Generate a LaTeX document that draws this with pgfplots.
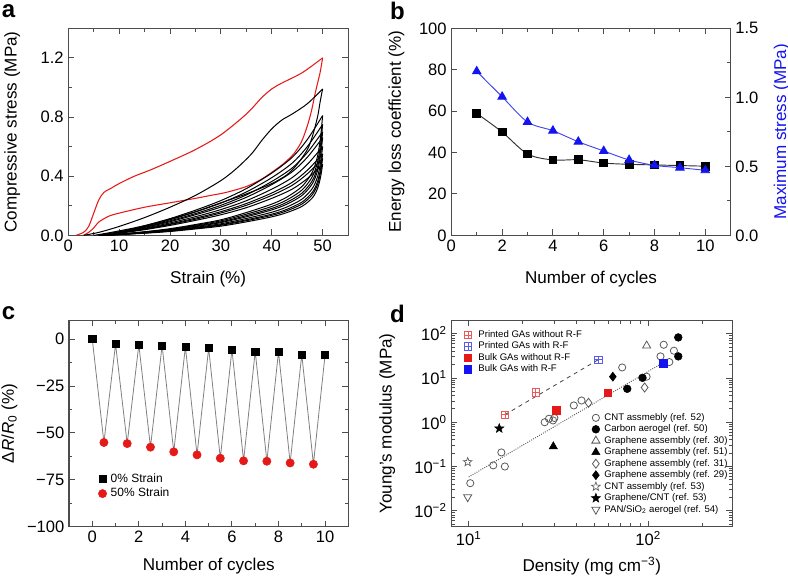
\documentclass[border=0pt]{standalone}
\usepackage{fontspec}
\setmainfont{Liberation Sans}
\usepackage{pgfplots}
\pgfplotsset{compat=1.18}
\usetikzlibrary{plotmarks}

\definecolor{frame}{gray}{0.3}
\definecolor{myred}{RGB}{230,25,25}
\definecolor{myblue}{RGB}{20,20,240}
\definecolor{lred}{RGB}{235,90,90}
\definecolor{lblue}{RGB}{90,90,235}
\definecolor{ogray}{gray}{0.35}

\pgfdeclareplotmark{boxplus}{%
  \pgfpathrectangle{\pgfqpoint{-\pgfplotmarksize}{-\pgfplotmarksize}}{\pgfqpoint{2\pgfplotmarksize}{2\pgfplotmarksize}}%
  \pgfpathmoveto{\pgfqpoint{-\pgfplotmarksize}{0pt}}\pgfpathlineto{\pgfqpoint{\pgfplotmarksize}{0pt}}%
  \pgfpathmoveto{\pgfqpoint{0pt}{-\pgfplotmarksize}}\pgfpathlineto{\pgfqpoint{0pt}{\pgfplotmarksize}}%
  \pgfusepathqstroke}
\pgfdeclareplotmark{pstar}{%
  \pgfpathmoveto{\pgfqpointpolar{90}{\pgfplotmarksize}}%
  \pgfpathlineto{\pgfqpointpolar{126}{0.42\pgfplotmarksize}}%
  \pgfpathlineto{\pgfqpointpolar{162}{\pgfplotmarksize}}%
  \pgfpathlineto{\pgfqpointpolar{198}{0.42\pgfplotmarksize}}%
  \pgfpathlineto{\pgfqpointpolar{234}{\pgfplotmarksize}}%
  \pgfpathlineto{\pgfqpointpolar{270}{0.42\pgfplotmarksize}}%
  \pgfpathlineto{\pgfqpointpolar{306}{\pgfplotmarksize}}%
  \pgfpathlineto{\pgfqpointpolar{342}{0.42\pgfplotmarksize}}%
  \pgfpathlineto{\pgfqpointpolar{18}{\pgfplotmarksize}}%
  \pgfpathlineto{\pgfqpointpolar{54}{0.42\pgfplotmarksize}}%
  \pgfpathclose
  \pgfusepathqfillstroke}

\pgfplotsset{
  panel/.style={
    scale only axis, tick align=inside,
    axis line style={frame, line width=0.8pt},
    every tick/.style={frame, line width=0.7pt},
    major tick length=4.5pt, minor tick length=2.5pt,
    tick label style={font=\fontsize{12.4}{13}\selectfont},
    label style={font=\fontsize{12.8}{14}\selectfont},
    /pgf/number format/assume math mode=true,
  },
  onedp/.style={/pgf/number format/fixed, /pgf/number format/fixed zerofill, /pgf/number format/precision=1},
  cyc/.style={black, line width=0.75pt, smooth, tension=0.5},
}

\begin{document}
\begin{tikzpicture}
\useasboundingbox (0pt,0pt) rectangle (591pt,-432pt);

% ---------------- panel a
\begin{axis}[panel, at={(51.23pt,-176.48pt)}, anchor=south west,
  width=209.8pt, height=155.25pt,
  xmin=0, xmax=55, ymin=0, ymax=1.4,
  xtick={0,10,...,50}, minor xtick={5,15,25,35,45},
  ytick={0,0.4,0.8,1.2}, minor ytick={0.2,0.6,1.0},
  yticklabel style={onedp},
  xlabel={Strain (\%)}, ylabel={Compressive stress (MPa)},
  xlabel style={at={(axis description cs:0.5,-0.15)}, anchor=north},
  ylabel style={at={(axis description cs:-0.155,0.5)}, anchor=south},
]
% cycle 1 (red)
\addplot[myred, line width=0.8pt, smooth, tension=0.5] coordinates {(1.5,0)(3,0.02)(4,0.06)(5,0.15)(6,0.24)(7,0.29)(8.5,0.32)(10,0.35)(13,0.40)(16,0.44)(20,0.50)(25,0.58)(30,0.68)(35,0.82)(38,0.93)(40,0.99)(42,1.03)(46,1.10)(50,1.2)};
\addplot[myred, line width=0.8pt, smooth, tension=0.5] coordinates {(50,1.2)(49.5,1.1)(48.6,0.97)(47.8,0.84)(46.9,0.73)(45.8,0.63)(44.3,0.55)(42.5,0.49)(41,0.45)(38,0.38)(35,0.33)(31,0.29)(28,0.27)(25,0.25)(20,0.22)(15,0.19)(10,0.15)(8,0.13)(6,0.09)(5,0.05)(4,0.02)(3,0)};
% cycle 2
\addplot[cyc] coordinates {(3,0)(6,0.02)(10,0.06)(15,0.12)(20,0.19)(25,0.27)(30,0.37)(33,0.45)(36,0.55)(38,0.64)(40,0.72)(42,0.78)(44,0.82)(47,0.89)(50,0.99)};
\addplot[cyc] coordinates {(50,0.99)(49.5,0.9)(49,0.8)(48,0.67)(47,0.58)(45,0.48)(43,0.41)(40,0.35)(35,0.28)(30,0.22)(25,0.16)(20,0.11)(15,0.065)(10,0.03)(6,0.005)(5,0)};
% cycles 3-10 loading
\addplot[cyc] coordinates {(6,0)(10,0.024)(15,0.065)(20,0.113)(25,0.170)(30,0.235)(35,0.316)(40,0.421)(44,0.527)(47,0.648)(50,0.81)};
\addplot[cyc] coordinates {(6,0)(10,0.023)(15,0.06)(20,0.105)(25,0.158)(30,0.218)(35,0.293)(40,0.39)(44,0.488)(47,0.6)(50,0.75)};
\addplot[cyc] coordinates {(6,0)(10,0.021)(15,0.056)(20,0.098)(25,0.147)(30,0.203)(35,0.273)(40,0.364)(44,0.455)(47,0.56)(50,0.70)};
\addplot[cyc] coordinates {(6,0)(10,0.02)(15,0.053)(20,0.092)(25,0.139)(30,0.191)(35,0.257)(40,0.343)(44,0.429)(47,0.528)(50,0.66)};
\addplot[cyc] coordinates {(6,0)(10,0.018)(15,0.048)(20,0.084)(25,0.126)(30,0.174)(35,0.234)(40,0.312)(44,0.39)(47,0.48)(50,0.60)};
\addplot[cyc] coordinates {(6,0)(10,0.017)(15,0.044)(20,0.077)(25,0.116)(30,0.16)(35,0.215)(40,0.286)(44,0.358)(47,0.44)(50,0.55)};
\addplot[cyc] coordinates {(6,0)(10,0.016)(15,0.042)(20,0.073)(25,0.109)(30,0.151)(35,0.203)(40,0.27)(44,0.338)(47,0.416)(50,0.52)};
\addplot[cyc] coordinates {(6,0)(10,0.014)(15,0.038)(20,0.067)(25,0.101)(30,0.139)(35,0.187)(40,0.25)(44,0.312)(47,0.384)(50,0.48)};
% cycles 3-10 unloading
\addplot[cyc] coordinates {(50,0.81)(49.6,0.664)(49,0.535)(48,0.429)(46,0.332)(43,0.259)(40,0.211)(35,0.154)(30,0.105)(25,0.073)(20,0.045)(15,0.024)(10,0.008)(7,0)};
\addplot[cyc] coordinates {(50,0.75)(49.6,0.615)(49,0.495)(48,0.398)(46,0.308)(43,0.24)(40,0.195)(35,0.143)(30,0.098)(25,0.068)(20,0.041)(15,0.023)(10,0.008)(7,0)};
\addplot[cyc] coordinates {(50,0.70)(49.6,0.574)(49,0.462)(48,0.371)(46,0.287)(43,0.224)(40,0.182)(35,0.133)(30,0.091)(25,0.063)(20,0.039)(15,0.021)(10,0.007)(7,0)};
\addplot[cyc] coordinates {(50,0.66)(49.6,0.541)(49,0.436)(48,0.35)(46,0.271)(43,0.211)(40,0.172)(35,0.125)(30,0.086)(25,0.059)(20,0.036)(15,0.02)(10,0.007)(7,0)};
\addplot[cyc] coordinates {(50,0.60)(49.6,0.492)(49,0.396)(48,0.318)(46,0.246)(43,0.192)(40,0.156)(35,0.114)(30,0.078)(25,0.054)(20,0.033)(15,0.018)(10,0.006)(7,0)};
\addplot[cyc] coordinates {(50,0.55)(49.6,0.451)(49,0.363)(48,0.292)(46,0.226)(43,0.176)(40,0.143)(35,0.105)(30,0.072)(25,0.05)(20,0.03)(15,0.017)(10,0.006)(7,0)};
\addplot[cyc] coordinates {(50,0.52)(49.6,0.426)(49,0.343)(48,0.276)(46,0.213)(43,0.166)(40,0.135)(35,0.099)(30,0.068)(25,0.047)(20,0.029)(15,0.016)(10,0.005)(7,0)};
\addplot[cyc] coordinates {(50,0.48)(49.6,0.394)(49,0.317)(48,0.254)(46,0.197)(43,0.154)(40,0.125)(35,0.091)(30,0.062)(25,0.043)(20,0.026)(15,0.014)(10,0.005)(7,0)};
\end{axis}

% ---------------- panel b
\begin{axis}[panel, at={(338.48pt,-176.48pt)}, anchor=south west,
  width=209.55pt, height=155.25pt,
  xmin=0, xmax=11, ymin=0, ymax=100,
  axis y line*=left,
  xtick={0,2,...,10}, minor xtick={1,3,...,9},
  ytick={0,20,...,100},
  xlabel={Number of cycles}, ylabel={Energy loss coefficient (\%)},
  xlabel style={at={(axis description cs:0.5,-0.15)}, anchor=north},
  ylabel style={at={(axis description cs:-0.151,0.5)}, anchor=south},
]
\addplot[black!80, line width=0.7pt, smooth, tension=0.5, mark=square*, mark size=2.9pt, mark options={black, solid}] coordinates {
(1,58.9)(2,49.9)(3,39.3)(4,36.4)(5,36.5)(6,34.9)(7,34.3)(8,34.0)(9,33.7)(10,33.4)};
\end{axis}
\begin{axis}[panel, at={(338.48pt,-176.48pt)}, anchor=south west,
  width=209.55pt, height=155.25pt,
  xmin=0, xmax=11, ymin=0, ymax=1.5,
  axis y line*=right, axis x line=none,
  ytick={0,0.5,1,1.5}, minor ytick={0.25,0.75,1.25},
  yticklabel style={onedp},
  ylabel={Maximum stress (MPa)},
  ylabel style={at={(axis description cs:1.137,0.5)}, anchor=north, text=myblue},
]
\addplot[myblue!80, line width=0.7pt, smooth, tension=0.5, mark=triangle*, mark size=3.6pt, mark options={myblue, solid}] coordinates {
(1,1.188)(2,1.004)(3,0.821)(4,0.758)(5,0.678)(6,0.611)(7,0.546)(8,0.507)(9,0.49)(10,0.471)};
\end{axis}

% ---------------- panel c
\begin{axis}[panel, at={(51.75pt,-395.03pt)}, anchor=south west,
  width=209.5pt, height=154.8pt,
  xmin=-1, xmax=11, ymin=-100, ymax=10,
  xtick={0,2,...,10}, minor xtick={1,3,...,9},
  ytick={-100,-75,-50,-25,0}, yticklabels={−100,−75,−50,−25,0},
  minor ytick={-87.5,-62.5,-37.5,-12.5},
  xlabel={Number of cycles}, ylabel={Δ\textit{R}/\textit{R}\textsubscript{0} (\%)},
  xlabel style={at={(axis description cs:0.5,-0.127)}, anchor=north},
  ylabel style={at={(axis description cs:-0.168,0.5)}, anchor=south},
  legend style={at={(0.09,0.275)}, anchor=north west, draw=none, fill=none,
    font=\fontsize{9}{10}\selectfont, row sep=2pt, column sep=2.5pt,
    nodes={inner sep=0.5pt}},
  legend cell align=left,
  legend image code/.code={\draw[#1] plot coordinates {(0pt,0pt)};},
]
\addplot[gray, line width=0.6pt, forget plot] coordinates {
(0,0)(0.5,-55.1)(1,-2.7)(1.5,-55.7)(2,-3.0)(2.5,-57.6)(3,-3.4)(3.5,-60.1)(4,-4.1)(4.5,-61.7)(5,-4.8)(5.5,-63.5)(6,-5.5)(6.5,-64.9)(7,-6.6)(7.5,-65.1)(8,-6.7)(8.5,-66.0)(9,-8.2)(9.5,-66.7)(10,-8.5)};
\addplot[only marks, mark=square*, mark size=2.7pt, black] coordinates {
(0,0)(1,-2.7)(2,-3.0)(3,-3.4)(4,-4.1)(5,-4.8)(6,-5.5)(7,-6.6)(8,-6.7)(9,-8.2)(10,-8.5)};
\addlegendentry{0\% Strain}
\addplot[only marks, mark=*, mark size=3.1pt, myred, mark options={draw=myred, fill=myred}] coordinates {
(0.5,-55.1)(1.5,-55.7)(2.5,-57.6)(3.5,-60.1)(4.5,-61.7)(5.5,-63.5)(6.5,-64.9)(7.5,-65.1)(8.5,-66.0)(9.5,-66.7)};
\addlegendentry{50\% Strain}
\end{axis}

% ---------------- panel d
\begin{axis}[panel, at={(338.48pt,-395.03pt)}, anchor=south west,
  width=210.75pt, height=154.8pt,
  xmode=log, ymode=log,
  xmin=8, xmax=294, ymin=0.00436, ymax=201,
  xtick={10,100}, xticklabels={10\textsuperscript{1},10\textsuperscript{2}},
  minor xtick={20,30,40,50,60,70,80,90,200},
  ytick={0.01,0.1,1,10,100},
  yticklabels={10\textsuperscript{−2},10\textsuperscript{−1},10\textsuperscript{0},10\textsuperscript{1},10\textsuperscript{2}},
  minor ytick={0.005,0.006,0.007,0.008,0.009,0.02,0.03,0.04,0.05,0.06,0.07,0.08,0.09,0.2,0.3,0.4,0.5,0.6,0.7,0.8,0.9,2,3,4,5,6,7,8,9,20,30,40,50,60,70,80,90,200},
  xlabel={Density (mg cm\textsuperscript{−3})}, ylabel={Young's modulus (MPa)},
  xlabel style={at={(axis description cs:0.5,-0.125)}, anchor=north},
  ylabel style={at={(axis description cs:-0.183,0.5)}, anchor=south},
  legend style={at={(0.483,0.565)}, anchor=north west, draw=none, fill=none,
    font=\fontsize{7.2}{8}\selectfont, row sep=1.4pt, column sep=3pt,
    nodes={inner sep=0pt, text height=5.6pt, text depth=1.6pt}},
  legend cell align=left,
  legend image code/.code={\draw[#1] plot coordinates {(0pt,0pt)};},
]
\addplot[black!75, dashed, line width=0.6pt, forget plot] coordinates {(15.9,1.48)(52.6,25.8)};
\addplot[black!65, densely dotted, line width=0.7pt, forget plot] coordinates {(10,0.058)(125,24)};
\addplot[only marks, mark=o, mark size=2.7pt, mark options={draw=ogray, line width=0.6pt}] coordinates {
(10.2,0.042)(13.7,0.106)(15.9,0.10)(15.2,0.208)(26.5,1.0)(28,1.2)(30,1.25)(29.5,1.1)(38.5,2.4)(42.5,3.1)(71.6,17.3)(97.9,10.7)(122,56.4)(117,30.8)(131,22.9)(139,41.3)};
\addlegendentry{CNT assmebly (ref. 52)}
\addplot[only marks, mark=*, mark size=2.9pt, mark options={draw=black, fill=black}] coordinates {
(76.4,5.7)(92.9,10.1)(147,82.6)(147,30.8)};
\addlegendentry{Carbon aerogel (ref. 50)}
\addplot[only marks, mark=triangle, mark size=3.5pt, mark options={draw=ogray, line width=0.6pt}] coordinates {(98,53.6)};
\addlegendentry{Graphene assembly (ref. 30)}
\addplot[only marks, mark=triangle*, mark size=3.5pt, mark options={draw=black, fill=black}] coordinates {(29.6,0.284)};
\addlegendentry{Graphene assembly (ref. 51)}
\addplot[only marks, mark=diamond, mark size=3.4pt, mark options={draw=ogray, line width=0.6pt}] coordinates {(95.5,6.1)(46.5,2.75)};
\addlegendentry{Graphene assembly (ref. 31)}
\addplot[only marks, mark=diamond*, mark size=3.4pt, mark options={draw=black, fill=black}] coordinates {(63.5,10.7)};
\addlegendentry{Graphene assembly (ref. 29)}
\addplot[only marks, mark=pstar, mark size=3.4pt, mark options={draw=ogray, fill=white, line width=0.5pt}] coordinates {(9.87,0.126)};
\addlegendentry{CNT assembly (ref. 53)}
\addplot[only marks, mark=pstar, mark size=3.6pt, mark options={draw=black, fill=black, line width=0.4pt}] coordinates {(14.8,0.727)};
\addlegendentry{Graphene/CNT (ref. 53)}
\addplot[only marks, mark=triangle, mark size=3.5pt, mark options={draw=ogray, line width=0.6pt, rotate=180}] coordinates {(9.87,0.0204)};
\addlegendentry{PAN/SiO\textsubscript{2} aerogel (ref. 54)}
\end{axis}
\begin{axis}[panel, at={(338.48pt,-395.03pt)}, anchor=south west,
  width=210.75pt, height=154.8pt,
  xmode=log, ymode=log, hide axis,
  xmin=8, xmax=294, ymin=0.00436, ymax=201,
  legend style={at={(0.031,0.967)}, anchor=north west, draw=none, fill=none,
    font=\fontsize{7.2}{8}\selectfont, row sep=1.4pt, column sep=5pt,
    nodes={inner sep=0pt, text height=5.6pt, text depth=1.6pt}},
  legend cell align=left,
  legend image code/.code={\draw[#1] plot coordinates {(0pt,0pt)};},
]
\addplot[only marks, mark=boxplus, mark size=2.8pt, mark options={draw=lred, line width=0.5pt}] coordinates {(15.9,1.48)(23.6,4.72)};
\addlegendentry{Printed GAs without R-F}
\addplot[only marks, mark=boxplus, mark size=2.8pt, mark options={draw=lblue, line width=0.5pt}] coordinates {(52.6,25.8)};
\addlegendentry{Printed GAs with R-F}
\addplot[only marks, mark=square*, mark size=2.8pt, mark options={draw=myred, fill=myred}] coordinates {(30.8,1.88)(59.6,4.64)};
\addlegendentry{Bulk GAs without R-F}
\addplot[only marks, mark=square*, mark size=2.8pt, mark options={draw=myblue, fill=myblue}] coordinates {(121,21.7)};
\addlegendentry{Bulk GAs with R-F}
\end{axis}

% panel letters
\node[font=\bfseries\fontsize{18}{18}\selectfont] at (6.4pt,-8.6pt) {a};
\node[font=\bfseries\fontsize{18}{18}\selectfont] at (298.1pt,-8.4pt) {b};
\node[font=\bfseries\fontsize{18}{18}\selectfont] at (6.4pt,-235.1pt) {c};
\node[font=\bfseries\fontsize{18}{18}\selectfont] at (298.1pt,-235.5pt) {d};
\end{tikzpicture}
\end{document}
